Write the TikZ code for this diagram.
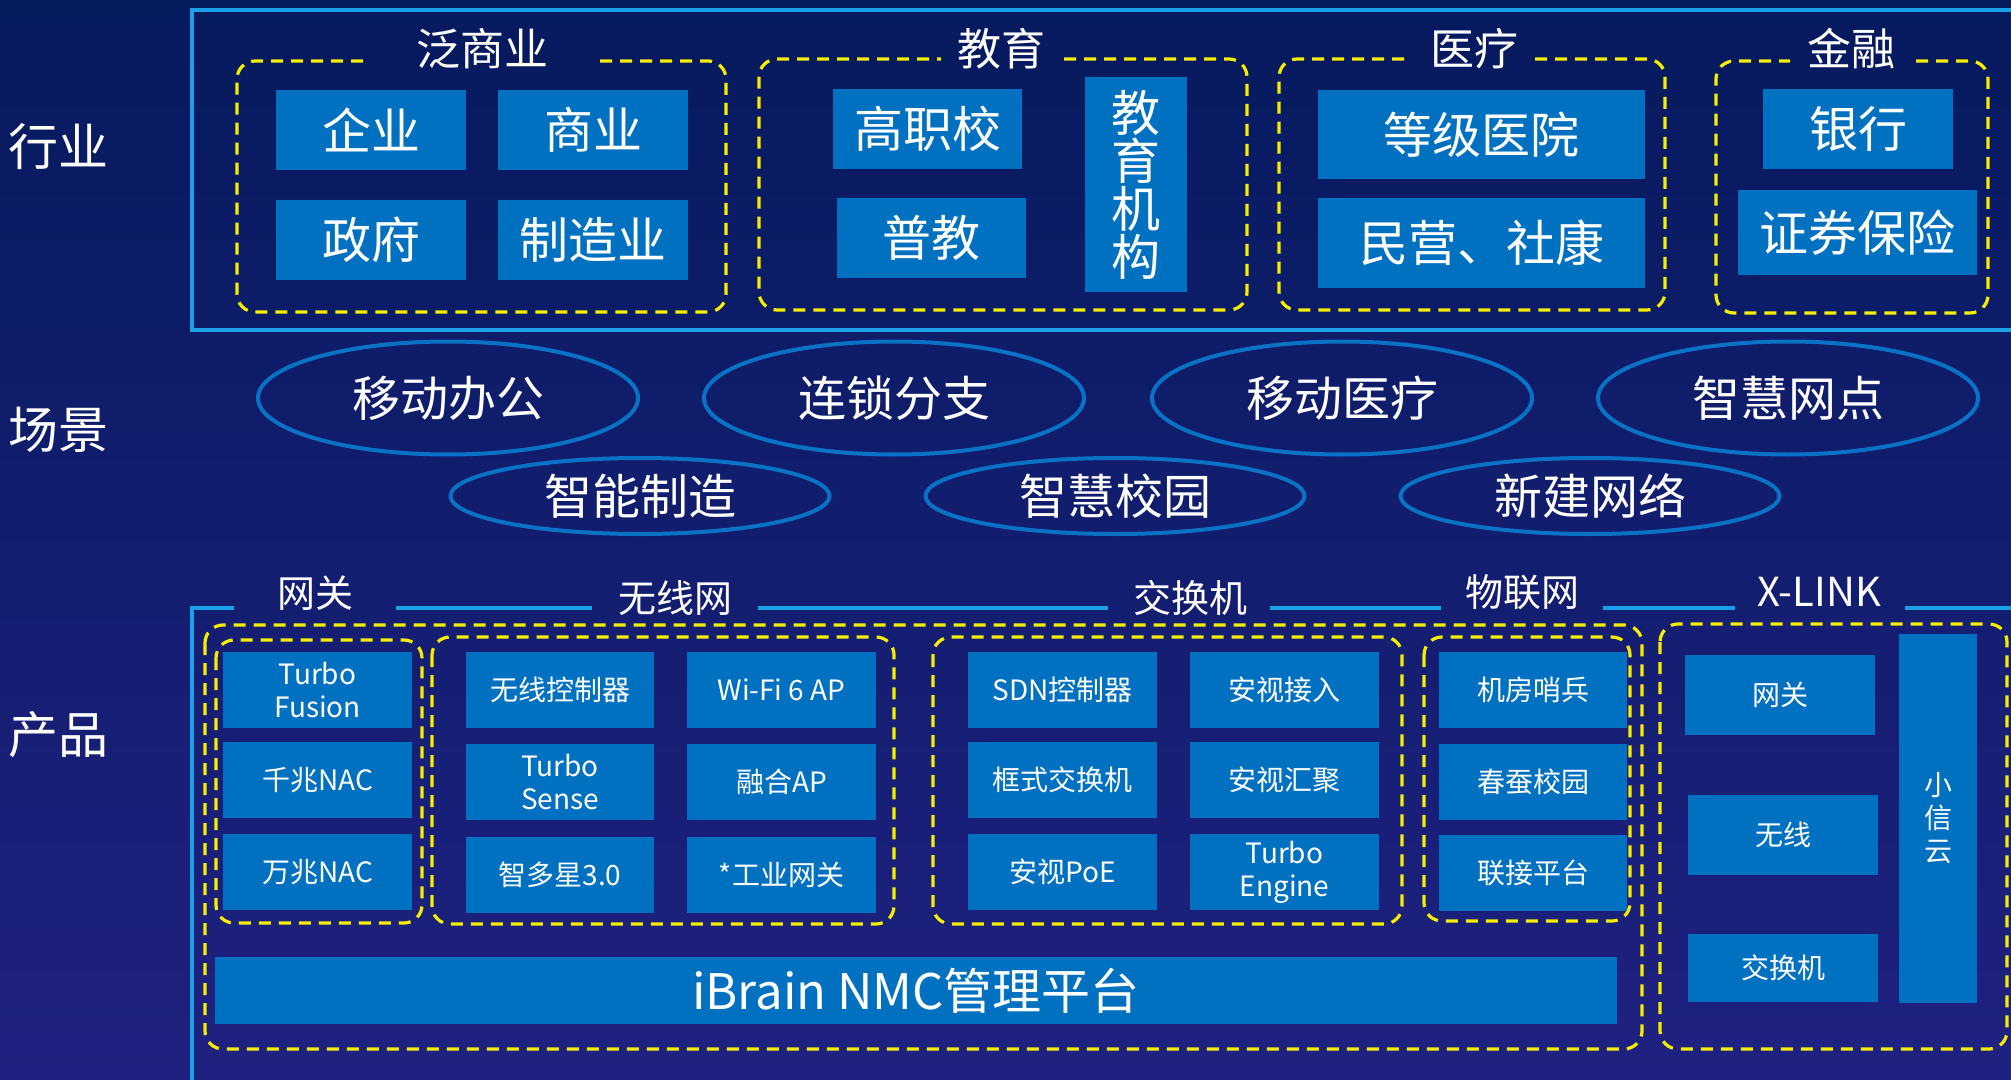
\documentclass[tikz,border=0pt]{standalone}
\usepackage{fontspec}
\setmainfont{Noto Sans CJK SC}
\usetikzlibrary{shapes.geometric}
\definecolor{bgtop}{HTML}{061A5E}
\definecolor{bgmid}{HTML}{0A1F66}
\definecolor{bgbot}{HTML}{1F2180}
\definecolor{boxblue}{HTML}{0070C0}
\definecolor{framecol}{HTML}{1AA0E6}
\definecolor{ellcol}{HTML}{0A72C4}
\definecolor{dashy}{HTML}{F5EE00}
\tikzset{
  bigbox/.style={fill=boxblue, text=white, inner sep=0pt, align=center, font=\fontsize{24.5pt}{25.5pt}\selectfont},
  smallbox/.style={fill=boxblue, text=white, inner sep=0pt, align=center, font=\fontsize{14pt}{16.5pt}\selectfont},
  lbl/.style={text=white, inner sep=0pt, font=\fontsize{25pt}{27pt}\selectfont},
  gtitle/.style={text=white, inner sep=0pt, font=\fontsize{22pt}{24pt}\selectfont},
  ptitle/.style={text=white, inner sep=0pt, font=\fontsize{19pt}{21pt}\selectfont},
  scen/.style={ellipse, draw=ellcol, line width=2pt, text=white, inner sep=0pt, font=\fontsize{24pt}{26pt}\selectfont},
  scenA/.style={scen, minimum width=190pt, minimum height=56.5pt},
  scenB/.style={scen, minimum width=189.5pt, minimum height=38pt},
  grp/.style={draw=dashy, line width=1.6pt, dash pattern=on 6pt off 4pt, rounded corners=9pt},
  frame/.style={draw=framecol, line width=2pt},
}
% style, name, x1, y1, x2, y2, text  (pixel coordinates)
\newcommand\drawbox[7]{%
  \pgfmathsetmacro\dbw{(#5-#3)/2}%
  \pgfmathsetmacro\dbh{(#6-#4)/2}%
  \node[#1, minimum width=\dbw pt, minimum height=\dbh pt] (#2) at ({(#3+#5)/2},{(#4+#6)/2}) {#7};}
\begin{document}
\begin{tikzpicture}[x=0.5pt,y=-0.5pt]
\useasboundingbox (0,0) rectangle (2011,1080);
\shade[top color=bgtop, middle color=bgmid, bottom color=bgbot] (0,0) rectangle (2011,1080);

% ---------- row labels
\node[lbl] (lhy) at (59,147) {行业};
\node[lbl] (lcj) at (59,430) {场景};
\node[lbl] (lcp) at (59,735) {产品};

% ---------- industry frame
\draw[frame] (2011,10) -- (192,10) -- (192,330) -- (2011,330);

% group titles
\node[gtitle] (t1) at (482,49) {泛商业};
\node[gtitle] (t2) at (1001,49) {教育};
\node[gtitle] (t3) at (1474,49) {医疗};
\node[gtitle] (t4) at (1851,49) {金融};

% dashed groups with title gaps
\draw[grp] (600,61) -- (726,61) -- (726,312) -- (237,312) -- (237,61) -- (367,61);
\draw[grp] (1064,59) -- (1247,59) -- (1247,310) -- (759,310) -- (759,59) -- (941,59);
\draw[grp] (1535,59) -- (1665,59) -- (1665,310) -- (1279,310) -- (1279,59) -- (1409,59);
\draw[grp] (1916,61) -- (1988,61) -- (1988,313) -- (1716,313) -- (1716,61) -- (1790,61);

% industry boxes
\drawbox{bigbox}{qy}{276}{90}{466}{170}{企业}
\drawbox{bigbox}{sy}{498}{90}{688}{170}{商业}
\drawbox{bigbox}{zf}{276}{200}{466}{280}{政府}
\drawbox{bigbox}{zzy}{498}{200}{688}{280}{制造业}
\drawbox{bigbox}{gzx}{833}{89}{1022}{169}{高职校}
\drawbox{bigbox}{pj}{837}{198}{1026}{278}{普教}
\drawbox{bigbox, font=\fontsize{24.5pt}{24pt}\selectfont}{jyjg}{1085}{77}{1187}{292}{教\\育\\机\\构}
\drawbox{bigbox}{djyy}{1318}{90}{1645}{179}{等级医院}
\drawbox{bigbox}{mysk}{1318}{198}{1645}{288}{民营、社康}
\drawbox{bigbox}{yh}{1763}{89}{1953}{169}{银行}
\drawbox{bigbox}{zqbx}{1738}{190}{1977}{275}{证券保险}

% ---------- scenarios
\node[scenA] (e1) at (448,398) {移动办公};
\node[scenA] (e2) at (894,398) {连锁分支};
\node[scenA] (e3) at (1342,398) {移动医疗};
\node[scenA] (e4) at (1788,398) {智慧网点};
\node[scenB] (e5) at (640,496) {智能制造};
\node[scenB] (e6) at (1115,496) {智慧校园};
\node[scenB] (e7) at (1590,496) {新建网络};

% ---------- products frame
\draw[frame] (192,1080) -- (192,608) -- (234,608);
\draw[frame] (396,608) -- (592,608);
\draw[frame] (758,608) -- (1108,608);
\draw[frame] (1270,608) -- (1441,608);
\draw[frame] (1603,608) -- (1735,608);
\draw[frame] (1905,608) -- (2011,608);

\node[ptitle] (h1) at (315,593) {网关};
\node[ptitle] (h2) at (675,598) {无线网};
\node[ptitle] (h3) at (1190,598) {交换机};
\node[ptitle] (h4) at (1522,592) {物联网};
\node[ptitle, font=\fontsize{20pt}{22pt}\selectfont] (h5) at (1819,592) {X-LINK};

% dashed groups
\draw[grp] (205,625) rectangle (1642,1049);
\draw[grp] (1660,624) rectangle (2007,1049);
\draw[grp] (216,640) rectangle (422,923);
\draw[grp] (432,637) rectangle (894,924);
\draw[grp] (933,637) rectangle (1402,924);
\draw[grp] (1424,637) rectangle (1630,921);

% gateway
\drawbox{smallbox}{tf}{223}{652}{412}{728}{Turbo\\Fusion}
\drawbox{smallbox}{qnac}{223}{742}{412}{818}{千兆NAC}
\drawbox{smallbox}{wnac}{223}{834}{412}{910}{万兆NAC}
% wireless
\drawbox{smallbox}{wxk}{466}{652}{654}{728}{无线控制器}
\drawbox{smallbox}{wifi}{687}{652}{876}{728}{Wi-Fi 6 AP}
\drawbox{smallbox}{ts}{466}{744}{654}{820}{Turbo\\Sense}
\drawbox{smallbox}{rhap}{687}{744}{876}{820}{融合AP}
\drawbox{smallbox}{zdx}{466}{837}{654}{913}{智多星3.0}
\drawbox{smallbox}{gywg}{687}{837}{876}{913}{*工业网关}
% switch
\drawbox{smallbox}{sdn}{968}{652}{1157}{728}{SDN控制器}
\drawbox{smallbox}{asjr}{1190}{652}{1379}{728}{安视接入}
\drawbox{smallbox}{ksjhj}{968}{742}{1157}{818}{框式交换机}
\drawbox{smallbox}{ashj}{1190}{742}{1379}{818}{安视汇聚}
\drawbox{smallbox}{aspoe}{968}{834}{1157}{910}{安视PoE}
\drawbox{smallbox}{te}{1190}{834}{1379}{910}{Turbo\\Engine}
% iot
\drawbox{smallbox}{jfsb}{1439}{652}{1627}{728}{机房哨兵}
\drawbox{smallbox}{ccxy}{1439}{744}{1627}{820}{春蚕校园}
\drawbox{smallbox}{ljpt}{1439}{835}{1627}{911}{联接平台}
% platform
\drawbox{bigbox}{nmc}{215}{957}{1617}{1024}{iBrain NMC管理平台}
% x-link
\drawbox{smallbox}{xwg}{1685}{655}{1875}{735}{网关}
\drawbox{smallbox}{xwx}{1688}{795}{1878}{875}{无线}
\drawbox{smallbox}{xjhj}{1688}{934}{1878}{1002}{交换机}
\drawbox{smallbox}{xxy}{1899}{634}{1977}{1003}{小\\信\\云}
\end{tikzpicture}
\end{document}
